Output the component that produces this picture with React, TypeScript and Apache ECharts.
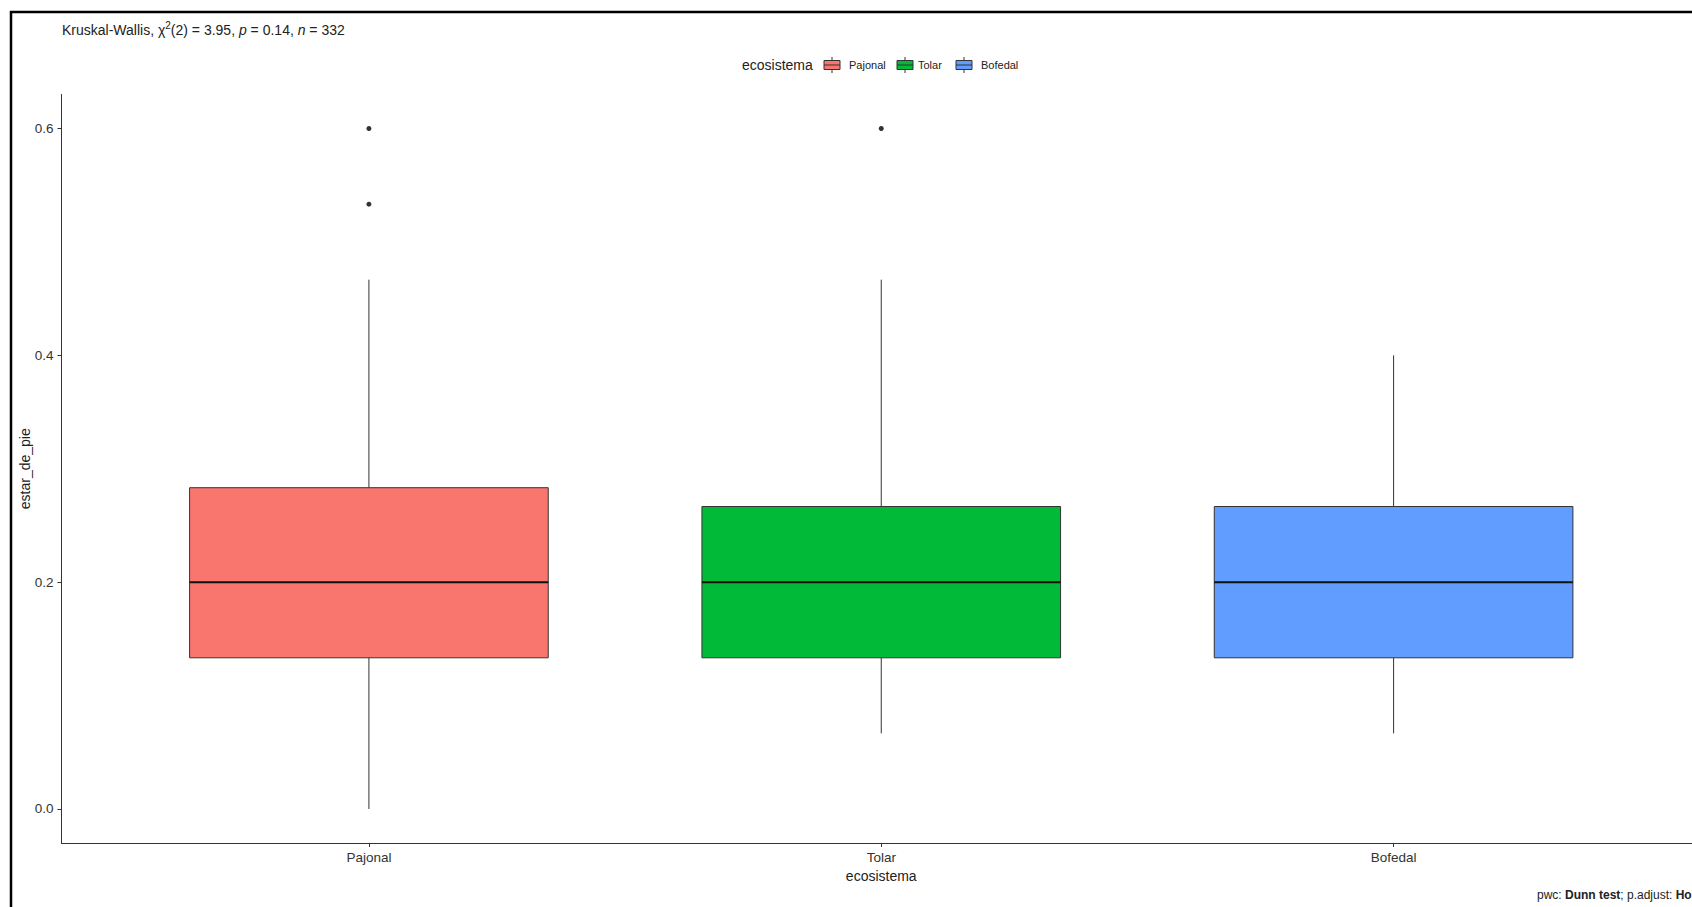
import React, { useEffect, useRef } from "react";
import * as echarts from "echarts";

const categories = ["Pajonal", "Tolar", "Bofedal"];
const lowerWhisker = [0, 0.0667, 0.0667];
const q1Values = [0.1333, 0.1333, 0.1333];
const medianValues = [0.2, 0.2, 0.2];
const q3Values = [0.2833, 0.2667, 0.2667];
const upperWhisker = [0.4667, 0.4667, 0.4];
const outlierCategory = ["Pajonal", "Pajonal", "Tolar"];
const outlierValues = [0.6, 0.5333, 0.6];
const yTicks = [0, 0.2, 0.4, 0.6];
const fillColors = ["#F8766D", "#00BA38", "#619CFF"];

const FONT = '"Liberation Sans", Arial, sans-serif';
const BOX_WIDTH = 0.7;

export default function App() {
  const ref = useRef<HTMLDivElement>(null);

  useEffect(() => {
    if (!ref.current) return;
    const chart = echarts.init(ref.current, undefined, { renderer: "svg" });

    const boxData = categories.map((c, i) => [
      i + 1,
      lowerWhisker[i],
      q1Values[i],
      medianValues[i],
      q3Values[i],
      upperWhisker[i],
    ]);
    const outlierData = outlierCategory.map((c, i) => [
      categories.indexOf(c) + 1,
      outlierValues[i],
    ]);

    const legendItems = [
      { x: 824, tx: 849 },
      { x: 897, tx: 918 },
      { x: 956, tx: 981 },
    ];
    const legendGraphics: any[] = [];
    categories.forEach((c, i) => {
      const lx = legendItems[i].x;
      const cx = lx + 8;
      legendGraphics.push(
        {
          type: "line",
          shape: { x1: cx, y1: 57, x2: cx, y2: 73 },
          style: { stroke: "#333", lineWidth: 1 },
          silent: true,
        },
        {
          type: "rect",
          shape: { x: lx, y: 60.5, width: 16, height: 9 },
          style: { fill: fillColors[i], stroke: "#333", lineWidth: 1 },
          silent: true,
        },
        {
          type: "line",
          shape: { x1: lx, y1: 65, x2: lx + 16, y2: 65 },
          style: { stroke: "#333", lineWidth: 1 },
          silent: true,
        },
        {
          type: "text",
          style: {
            x: legendItems[i].tx,
            y: 65,
            text: c,
            font: `11px ${FONT}`,
            fill: "#222",
            verticalAlign: "middle",
            align: "left",
          },
          silent: true,
        }
      );
    });

    chart.setOption({
      animation: false,
      backgroundColor: "#ffffff",
      grid: { left: 61.5, right: 0, top: 94.5, bottom: 64, containLabel: false },
      xAxis: {
        type: "value",
        min: 0.4,
        max: 3.6,
        name: "ecosistema",
        nameLocation: "middle",
        nameGap: 24,
        nameTextStyle: { fontFamily: FONT, fontSize: 14, color: "#222" },
        axisLine: { show: true, onZero: false, lineStyle: { color: "#333", width: 1 } },
        axisTick: {
          show: true,
          length: 4,
          customValues: [1, 2, 3],
          lineStyle: { color: "#333" },
        },
        axisLabel: {
          customValues: [1, 2, 3],
          formatter: (v: number) => categories[Math.round(v) - 1] ?? "",
          fontFamily: FONT,
          fontSize: 13.5,
          color: "#333",
          margin: 7,
        },
        splitLine: { show: false },
      },
      yAxis: {
        type: "value",
        min: -0.03,
        max: 0.63,
        name: "estar_de_pie",
        nameLocation: "middle",
        nameGap: 30,
        nameRotate: 90,
        nameMoveOverlap: false,
        nameTextStyle: { fontFamily: FONT, fontSize: 14, color: "#222" },
        axisLine: { show: true, onZero: false, lineStyle: { color: "#333", width: 1 } },
        axisTick: {
          show: true,
          length: 4,
          customValues: yTicks,
          lineStyle: { color: "#333" },
        },
        axisLabel: {
          customValues: yTicks,
          formatter: (v: number) => v.toFixed(1),
          fontFamily: FONT,
          fontSize: 13.5,
          color: "#333",
          margin: 8,
        },
        splitLine: { show: false },
      },
      series: [
        {
          type: "custom",
          data: boxData,
          renderItem: (params: any, api: any) => {
            const x = api.value(0);
            const lo = api.coord([x, api.value(1)]);
            const q1 = api.coord([x, api.value(2)]);
            const med = api.coord([x, api.value(3)]);
            const q3 = api.coord([x, api.value(4)]);
            const hi = api.coord([x, api.value(5)]);
            const half = api.size([BOX_WIDTH, 0])[0] / 2;
            const cx = med[0];
            return {
              type: "group",
              children: [
                {
                  type: "line",
                  shape: { x1: cx, y1: hi[1], x2: cx, y2: q3[1] },
                  style: { stroke: "#333", lineWidth: 1 },
                },
                {
                  type: "line",
                  shape: { x1: cx, y1: q1[1], x2: cx, y2: lo[1] },
                  style: { stroke: "#333", lineWidth: 1 },
                },
                {
                  type: "rect",
                  shape: {
                    x: cx - half,
                    y: q3[1],
                    width: half * 2,
                    height: q1[1] - q3[1],
                  },
                  style: {
                    fill: fillColors[params.dataIndex],
                    stroke: "#333",
                    lineWidth: 1,
                  },
                },
                {
                  type: "line",
                  shape: { x1: cx - half, y1: med[1], x2: cx + half, y2: med[1] },
                  style: { stroke: "#111", lineWidth: 2 },
                },
              ],
            };
          },
          z: 2,
        },
        {
          type: "scatter",
          data: outlierData,
          symbol: "circle",
          symbolSize: 5,
          itemStyle: { color: "#000" },
          z: 3,
        },
      ],
      graphic: [
        {
          type: "rect",
          shape: { x: 11, y: 12, width: 1800, height: 1000 },
          style: { fill: "none", stroke: "#000", lineWidth: 2.5 },
          silent: true,
          z: 100,
        },
        {
          type: "text",
          style: {
            x: 62,
            y: 30,
            text:
              "{a|Kruskal-Wallis, χ}{s|2}{a|(2) = 3.95, }{i|p}{a| = 0.14, }{i|n}{a| = 332}",
            verticalAlign: "middle",
            align: "left",
            rich: {
              a: { fontFamily: FONT, fontSize: 14, fill: "#222", color: "#222" },
              i: {
                fontFamily: FONT,
                fontSize: 14,
                fontStyle: "italic",
                fill: "#222",
                color: "#222",
              },
              s: {
                fontFamily: FONT,
                fontSize: 10,
                fill: "#222",
                color: "#222",
                padding: [0, 0, 9, 0],
              },
            },
          },
          silent: true,
        },
        {
          type: "text",
          style: {
            x: 742,
            y: 65,
            text: "ecosistema",
            font: `14px ${FONT}`,
            fill: "#222",
            verticalAlign: "middle",
            align: "left",
          },
          silent: true,
        },
        ...legendGraphics,
        {
          type: "text",
          style: {
            x: 1537,
            y: 895,
            text: "pwc: {b|Dunn test}; p.adjust: {b|Holm}",
            verticalAlign: "middle",
            align: "left",
            font: `12px ${FONT}`,
            fill: "#222",
            rich: {
              b: {
                fontFamily: FONT,
                fontSize: 12,
                fontWeight: "bold",
                fill: "#222",
                color: "#222",
              },
            },
          },
          silent: true,
        },
      ],
    });

    return () => chart.dispose();
  }, []);

  return (
    <div
      style={{
        position: "absolute",
        left: 0,
        top: 0,
        width: 1692,
        height: 907,
        background: "#fff",
        overflow: "hidden",
      }}
    >
      <div ref={ref} style={{ width: 1701, height: 907 }} />
    </div>
  );
}
